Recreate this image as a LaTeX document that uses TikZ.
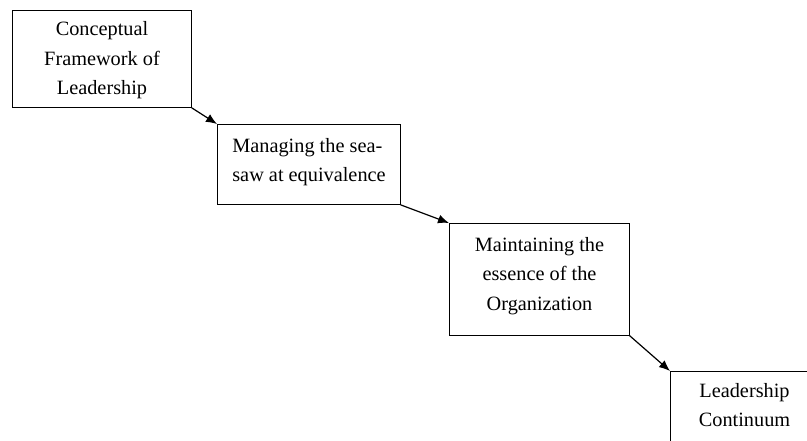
\documentclass[tikz,border=0pt]{standalone}
\usepackage{fontspec}
\setmainfont{Liberation Serif}
\usetikzlibrary{arrows.meta}

\tikzset{
  stage/.style={draw, line width=1pt, anchor=north west, inner sep=0pt,
    font=\fontsize{20.3}{29.5}\selectfont},
  link/.style={->, line width=1.2pt, shorten <=-0.5pt}
}

\begin{document}
\begin{tikzpicture}[x=1pt, y=-1pt, >={Latex[length=11pt,width=9pt]}]
  \useasboundingbox (0,0) rectangle (807,441);
  \clip (0,0) rectangle (807,441);

  % Boxes
  \node[stage, minimum width=179pt, minimum height=97pt, align=center] (frame) at (12,10)
    {Conceptual\\Framework of\\Leadership\\[-28pt]};
  \node[stage, minimum width=183pt, minimum height=80pt, align=left] (seesaw) at (217,124)
    {Managing the sea-\\saw at equivalence\\[-20pt]};
  \node[stage, minimum width=180pt, minimum height=112pt, align=center] (essence) at (449,223)
    {Maintaining the\\essence of the\\Organization\\[-18pt]};
  \node[stage, minimum width=148pt, minimum height=110pt, align=center] (continuum) at (670,371)
    {Leadership\\Continuum\\[14pt]};

  % Arrows
  \draw[link] (frame.south east) -- (seesaw.north west);
  \draw[link] (seesaw.south east) -- (essence.north west);
  \draw[link] (essence.south east) -- (continuum.north west);

\end{tikzpicture}
\end{document}
